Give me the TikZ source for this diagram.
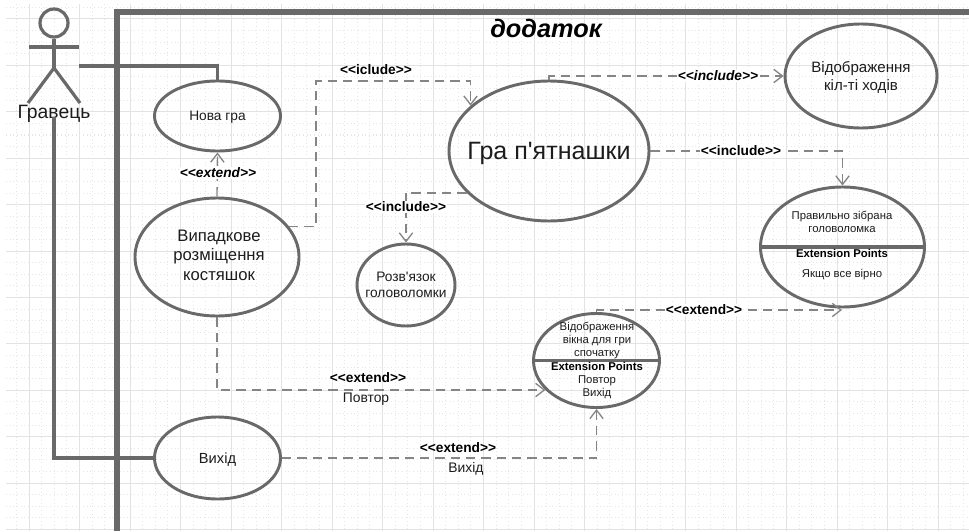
\documentclass[tikz,border=0pt]{standalone}
\usepackage{fontspec}
\newfontfamily\lucidfont{Liberation Sans}
\usetikzlibrary{shapes.geometric,arrows.meta}
\definecolor{umlgrey}{HTML}{696969}
\definecolor{dashgrey}{HTML}{858585}
\definecolor{gridgrey}{HTML}{E3E3E3}
\definecolor{gridlight}{HTML}{E6E6E6}
\definecolor{inkgrey}{HTML}{1C1C1C}
\tikzset{every picture/.style={line width=0.75pt}}
\tikzset{
  usecase/.style={draw=umlgrey,ellipse,line width=2.2pt,inner sep=-12pt,align=center,text=inkgrey,font=\lucidfont\fontsize{10.3}{12.4}\selectfont},
  solidlink/.style={draw=umlgrey,line width=2.4pt},
  dashlink/.style={draw=dashgrey,line width=1pt,dash pattern=on 7pt off 4.5pt,-{Straight Barb[length=6.5pt,width=10pt]}},
  tag/.style={inner sep=0.75pt,text=black,font=\lucidfont\bfseries\fontsize{10.3}{12}\selectfont},
  tagi/.style={inner sep=0.75pt,text=black,font=\lucidfont\bfseries\itshape\fontsize{10.3}{12}\selectfont},
  exttag/.style={inner sep=0.75pt,text=black,font=\lucidfont\bfseries\fontsize{8.5}{10}\selectfont},
  plain/.style={inner sep=0.75pt,align=center,text=inkgrey,font=\lucidfont\fontsize{8.5}{9.75}\selectfont},
  note/.style={inner sep=0.75pt,text=inkgrey,font=\lucidfont\fontsize{10.4}{12}\selectfont},
}
\newcommand{\stereo}[1]{<{}<#1>{}>}
\begin{document}
\begin{tikzpicture}[x=0.75pt,y=0.75pt,yscale=-1,xscale=1]
\useasboundingbox (0,0) rectangle (969,531);

%Grid
\foreach \k in {-1,...,76} \draw [gridlight,dotted] ({29+12.625*\k},4) -- ({29+12.625*\k},531);
\foreach \k in {-1,...,45} \draw [gridlight,dotted] (6,{19+11.6*\k}) -- (969,{19+11.6*\k});
\foreach \k in {0,...,18} \draw [gridgrey] ({29+50.5*\k},4) -- ({29+50.5*\k},531);
\foreach \k in {0,...,11} \draw [gridgrey] (6,{19+46.4*\k}) -- (969,{19+46.4*\k});

%Shape: Frame
\draw [umlgrey,line width=4.8pt] (117,531) -- (117,12) -- (969,12);
% Text Node
\draw (546,28) node (app) [inner sep=0.75pt,text=black,font=\lucidfont\bfseries\itshape\fontsize{19}{22}\selectfont] {додаток};

%Shape: Actor
\draw (54,23) node (head) [circle,draw=umlgrey,line width=2.4pt,minimum size=21pt,inner sep=0pt] {};
\coordinate (hips) at (54,68);
\coordinate (hand) at (79,66);
\coordinate (foot) at (54,117);
\draw [solidlink] (head.south) -- (hips);
\draw [solidlink] (29,47) -- (79,47);
\draw [solidlink] (28,103) -- (hips) -- (80,103);
% Text Node
\draw (54,113.5) node (gamer) [inner sep=0.75pt,text=inkgrey,font=\lucidfont\fontsize{14.5}{17}\selectfont] {Гравець};

%Shape: Ellipse
\draw (217.5,116) node (newgame) [usecase,minimum width=94.5pt,minimum height=52.5pt] {};
% Text Node
\draw (217.5,117) node (newgametxt) [note,font=\lucidfont\fontsize{10.3}{12.4}\selectfont] {Нова гра};
%Shape: Ellipse
\draw (217,257) node (shuffle) [usecase,minimum width=123pt,minimum height=88.5pt] {};
% Text Node
\draw (219,255) node (shuffletxt) [plain,font=\lucidfont\fontsize{12.5}{14.6}\selectfont] {Випадкове\\розміщення\\костяшок};
%Shape: Ellipse
\draw (217.5,458) node (quit) [usecase,minimum width=94.5pt,minimum height=61.5pt] {};
% Text Node
\draw (217.5,460) node (quittxt) [note,font=\lucidfont\fontsize{11}{13}\selectfont] {Вихід};
%Shape: Ellipse
\draw (549,151) node (game) [usecase,minimum width=150pt,minimum height=105pt] {};
% Text Node
\draw (549,153) node (gametxt) [note,font=\lucidfont\fontsize{18.8}{22}\selectfont] {Гра п'ятнашки};
%Shape: Ellipse
\draw (861,76) node (moves) [usecase,minimum width=114pt,minimum height=78pt] {};
% Text Node
\draw (861,77.5) node (movestxt) [plain,font=\lucidfont\fontsize{11.3}{13}\selectfont] {Відображення\\кіл-ті ходів};
%Shape: Ellipse
\draw (406,285) node (solve) [usecase,minimum width=73.5pt,minimum height=61.5pt] {Розв'язок\\головоломки};
%Shape: Ellipse
\draw (842.5,247) node (solved) [usecase,minimum width=123pt,minimum height=90pt] {};
%Shape: Ellipse
\draw (596.5,360.5) node (again) [usecase,minimum width=94.5pt,minimum height=70.5pt] {};
\draw [solidlink] (solved.west) -- (solved.east);
\draw [solidlink] (again.west) -- (again.east);

% Text Node
\draw (842,222) node (solvedtxt) [plain] {Правильно зібрана\\головоломка};
% Text Node
\draw (842,253) node (solvedext) [exttag] {Extension Points};
% Text Node
\draw (842,275) node (solvedif) [plain] {Якщо все вірно};
% Text Node
\draw (597,341) node (againtxt) [plain] {Відображення\\вікна для гри\\спочатку};
% Text Node
\draw (597,366) node (againext) [exttag] {Extension Points};
% Text Node
\draw (597,387) node (againpts) [plain] {Повтор\\Вихід};

%Connectors
\coordinate (bend) at (316,81);
\coordinate (tip) at (842,310);
\draw [solidlink] (hand) -| (newgame.north);
\draw [solidlink] (foot) |- (quit.west);
\draw [dashlink] (shuffle.north) -- (newgame.south);
\draw [dashlink] (shuffle.23) -| (bend) -| (game.150);
\draw [dashlink] (game.north) |- (moves.west);
\draw [dashlink] (game.east) -| (solved.north);
\draw [dashlink] (game.207) -| (solve.north);
\draw [dashlink] (shuffle.south) |- (again.210);
\draw [dashlink] (quit.east) -| (again.south);
\draw [dashlink] (again.north) |- (tip);

% Text Node
\draw (218,173) node (ext1) [tagi,fill=white] {\stereo{extend}};
% Text Node
\draw (376,70) node (inc1) [tag] {\stereo{iclude}};
% Text Node
\draw (718,76) node (inc2) [tagi,fill=white] {\stereo{include}};
% Text Node
\draw (741,151) node (inc3) [tag,fill=white] {\stereo{include}};
% Text Node
\draw (406,207) node (inc4) [tag,fill=white] {\stereo{include}};
% Text Node
\draw (704,310) node (ext2) [tag,fill=white] {\stereo{extend}};
% Text Node
\draw (368,378) node (ext3) [tag] {\stereo{extend}};
% Text Node
\draw (366,399) node (rep) [note] {Повтор};
% Text Node
\draw (458,448) node (ext4) [tag] {\stereo{extend}};
% Text Node
\draw (466,469) node (ext) [note] {Вихід};

\end{tikzpicture}
\end{document}
